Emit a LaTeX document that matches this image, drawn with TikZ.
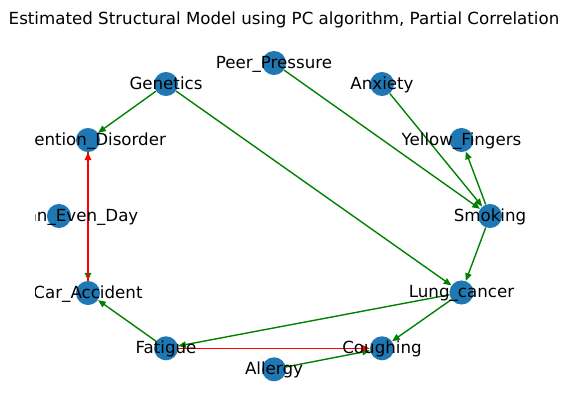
\documentclass[tikz,border=0pt]{standalone}
\usepackage{fontspec}
\setmainfont{DejaVu Sans}
\usetikzlibrary{arrows.meta}
\definecolor{nodeblue}{HTML}{1F78B4}
\definecolor{egreen}{RGB}{0,128,0}
\definecolor{ered}{RGB}{255,0,0}
\pgfdeclarelayer{edgelayer}
\pgfsetlayers{edgelayer,main}
\begin{document}
\begin{tikzpicture}[x=0.72pt,y=-0.72pt,
  vert/.style={circle,fill=nodeblue,draw=none,minimum size=17.3pt,inner sep=0pt},
  lbl/.style={font=\fontsize{12}{14}\selectfont,text height=0.73em,text depth=0em,inner sep=0pt},
  ttl/.style={font=\fontsize{12}{14}\selectfont,inner sep=0pt,anchor=base},
  gedge/.style={draw=egreen,line width=1pt,-{Triangle[length=5.6pt,width=4.6pt]}},
  redge/.style={draw=ered,line width=1pt,-{Triangle[length=5.6pt,width=4.6pt]}}]
\useasboundingbox (0,0) rectangle (568,411);
% vertices
\node[vert] (PP) at (274,63) {};
\node[vert] (GE) at (166,84) {};
\node[vert] (AN) at (382,84) {};
\node[vert] (AD) at (88,140) {};
\node[vert] (YF) at (461.5,140) {};
\node[vert] (BE) at (59,216) {};
\node[vert] (SM) at (490,216) {};
\node[vert] (CA) at (88,293) {};
\node[vert] (LC) at (461.5,292.5) {};
\node[vert] (FA) at (166,348.3) {};
\node[vert] (CO) at (382,348.3) {};
\node[vert] (AL) at (274,369.3) {};
% edges
\begin{pgfonlayer}{edgelayer}
\draw[gedge] (GE) -- (AD);
\draw[gedge] (GE) -- (LC);
\draw[gedge] (PP) -- (SM);
\draw[gedge] (AN) -- (SM);
\draw[gedge] (SM) -- (YF);
\draw[gedge] (SM) -- (LC);
\draw[gedge] (LC) -- (FA);
\draw[gedge] (LC) -- (CO);
\draw[gedge] (FA) -- (CA);
\draw[gedge] (AL) -- (CO);
\draw[gedge] (AD) -- (CA);
\draw[redge] (CA) -- (AD);
\draw[redge] (FA) -- (CO);
\end{pgfonlayer}
% labels
\begin{scope}
\clip (35,0) rectangle (568,411);
\node[lbl] (lPP) at (PP) {Peer\_Pressure};
\node[lbl] (lGE) at (GE) {Genetics};
\node[lbl] (lAN) at (AN) {Anxiety};
\node[lbl] (lAD) at (AD) {Attention\_Disorder};
\node[lbl] (lYF) at (YF) {Yellow\_Fingers};
\node[lbl] (lBE) at (BE) {Born\_an\_Even\_Day};
\node[lbl] (lSM) at (SM) {Smoking};
\node[lbl] (lCA) at (CA) {Car\_Accident};
\node[lbl] (lLC) at (LC) {Lung\_cancer};
\node[lbl] (lFA) at (FA) {Fatigue};
\node[lbl] (lCO) at (CO) {Coughing};
\node[lbl] (lAL) at (AL) {Allergy};
\end{scope}
\node[ttl] (title) at (284,24.5) {Estimated Structural Model using PC algorithm, Partial Correlation};
\end{tikzpicture}
\end{document}
